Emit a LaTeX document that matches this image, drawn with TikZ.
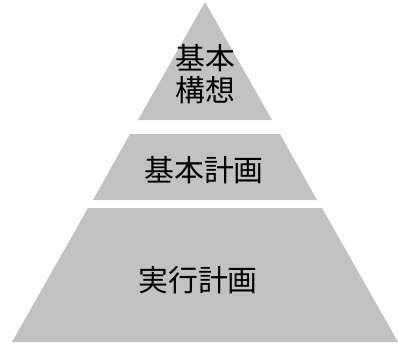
\documentclass[tikz,border=0pt]{standalone}
\usepackage{fontspec}
\newfontfamily\jpfont{Noto Sans CJK JP}
\usetikzlibrary{positioning}
\tikzset{
	layer/.style={fill=black!24, draw=none},
	lbl/.style={font=\jpfont\fontsize{17pt}{18pt}\selectfont, align=center, inner sep=0pt},
}
\begin{document}
\begin{tikzpicture}[x=0.02cm, y=-0.02cm]
	\useasboundingbox (0,0) rectangle (398,348);
	
	\fill[layer] (205,2) -- (272,120) -- (138,120) -- cycle;
	\fill[layer] (130,134) -- (280,134) -- (317,200) -- (93,200) -- cycle;
	\fill[layer] (88,208) -- (322,208) -- (398,342) -- (12,342) -- cycle;
	
	\node[lbl] (kousou) at (205,74) {基本\\構想};
	\node[lbl] (kihon) at (204,170) {基本計画};
	\node[lbl] (jikkou) at (198,280) {実行計画};
	
\end{tikzpicture}
\end{document}
